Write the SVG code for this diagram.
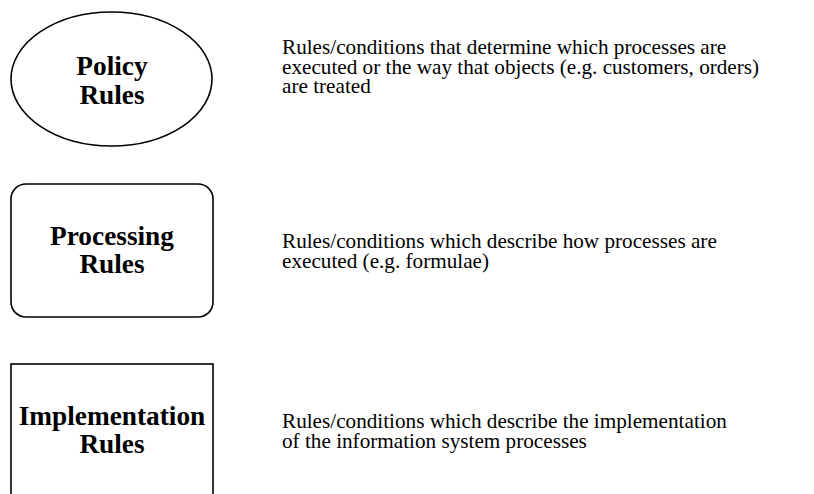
<svg xmlns="http://www.w3.org/2000/svg" width="814" height="494" viewBox="0 0 814 494">
<style>
.shape{fill:#fff;stroke:#000;stroke-width:1.6}
.title{font-family:"Liberation Serif","Times New Roman",serif;font-weight:bold;font-size:27.3px;text-anchor:middle;fill:#000}
.desc{font-family:"Liberation Serif","Times New Roman",serif;font-size:21.2px;fill:#000}
</style>
<rect width="814" height="494" fill="#fff"/>
<g id="policy">
<ellipse class="shape" cx="111.5" cy="79" rx="100.5" ry="67"/>
<text class="title" x="112" y="75">Policy</text>
<text class="title" x="112" y="104">Rules</text>
</g>
<g id="policy-desc">
<text class="desc" x="282" y="54">Rules/conditions that determine which processes are</text>
<text class="desc" x="282" y="74">executed or the way that objects (e.g. customers, orders)</text>
<text class="desc" x="282" y="93">are treated</text>
</g>
<g id="processing">
<rect class="shape" x="11" y="184" width="202" height="133" rx="15" ry="15"/>
<text class="title" x="112" y="245">Processing</text>
<text class="title" x="112" y="273">Rules</text>
</g>
<g id="processing-desc">
<text class="desc" x="282" y="248">Rules/conditions which describe how processes are</text>
<text class="desc" x="282" y="268">executed (e.g. formulae)</text>
</g>
<g id="implementation">
<rect class="shape" x="11" y="364" width="202" height="140"/>
<text class="title" x="112" y="425">Implementation</text>
<text class="title" x="112" y="453">Rules</text>
</g>
<g id="implementation-desc">
<text class="desc" x="282" y="428">Rules/conditions which describe the implementation</text>
<text class="desc" x="282" y="448">of the information system processes</text>
</g>
<g id="connectors"></g>
</svg>
